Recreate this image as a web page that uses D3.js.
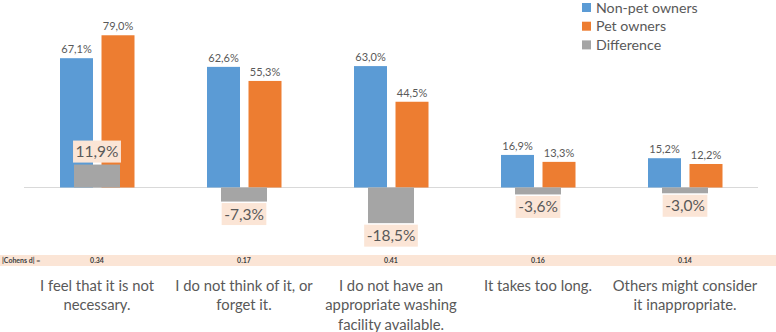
<!DOCTYPE html>
<html><head><meta charset="utf-8">
<script src="https://cdn.jsdelivr.net/npm/d3@7"></script>
<style>body{margin:0;background:#fff;} svg{display:block;font-family:Lato,"Open Sans",sans-serif;}</style>
</head><body>
<svg id="c" width="776" height="332"></svg>
<script>
const categories = [
  ["I feel that it is not", "necessary."],
  ["I do not think of it, or", "forget it."],
  ["I do not have an", "appropriate washing", "facility available."],
  ["It takes too long."],
  ["Others might consider", "it inappropriate."]
];
const seriesNames = ["Non-pet owners", "Pet owners", "Difference"];
const nonPet = [67.1, 62.6, 63.0, 16.9, 15.2];
const pet = [79.0, 55.3, 44.5, 13.3, 12.2];
const diff = [11.9, -7.3, -18.5, -3.6, -3.0];
const cohensD = ["0.34", "0.17", "0.41", "0.16", "0.14"];
const colors = ["#5B9BD5", "#ED7D31", "#A5A5A5"];

const fmt = v => v.toFixed(1).replace(".", ",") + "%";
const svg = d3.select("#c");
const keys = categories.map((c, i) => i);

const x = d3.scaleBand().domain(keys).range([23.5, 758.5]);
const xs = d3.scaleBand().domain([0, 1]).range([-37, 37.5]).paddingInner(0.205);
const y = d3.scaleLinear().domain([-20, 80]).range([226.04, 33.34]);
const cx = i => x(i) + x.bandwidth() / 2;

// axis line
svg.append("line").attr("x1", 24).attr("x2", 758).attr("y1", y(0)).attr("y2", y(0))
  .attr("stroke", "#d9d9d9").attr("stroke-width", 1);

// bars
[nonPet, pet].forEach((vals, s) => {
  const g = svg.append("g");
  g.selectAll("rect").data(vals).join("rect")
    .attr("x", (d, i) => cx(i) + xs(s)).attr("width", xs.bandwidth())
    .attr("y", d => y(d)).attr("height", d => y(0) - y(d))
    .attr("fill", colors[s]);
  g.selectAll("text").data(vals).join("text")
    .attr("x", (d, i) => cx(i) + xs(s) + xs.bandwidth() / 2)
    .attr("y", d => y(d) - 5)
    .attr("text-anchor", "middle").attr("font-size", 11).attr("fill", "#595959")
    .text(fmt);
});

// difference bars
const gw = 46;
svg.append("g").selectAll("rect").data(diff).join("rect")
  .attr("x", (d, i) => cx(i) - gw / 2).attr("width", gw)
  .attr("y", d => y(Math.max(0, d))).attr("height", d => Math.abs(y(d) - y(0)))
  .attr("fill", colors[2]);

// difference labels with boxes
const dl = svg.append("g");
diff.forEach((d, i) => {
  const g = dl.append("g");
  const t = g.append("text").attr("x", cx(i)).attr("text-anchor", "middle")
    .attr("font-size", 15.5).attr("fill", "#595959").text(fmt(d));
  const w = t.node().getComputedTextLength() + 5;
  const h = 22;
  const top = d >= 0 ? y(d) - 2 - h : y(d) + 1.5;
  t.attr("y", top + h / 2 + 5.5);
  g.insert("rect", "text").attr("x", cx(i) - w / 2).attr("y", top).attr("width", w).attr("height", h)
    .attr("fill", "#FBE5D6");
});

// Cohens d band
svg.append("rect").attr("x", 0).attr("y", 255).attr("width", 776).attr("height", 11).attr("fill", "#FBE5D6");
svg.append("text").attr("x", 2).attr("y", 263).attr("font-size", 7).attr("font-weight", "bold")
  .attr("fill", "#404040").text("|Cohens d| =");
svg.append("g").selectAll("text").data(cohensD).join("text")
  .attr("x", (d, i) => cx(i)).attr("y", 263).attr("text-anchor", "middle")
  .attr("font-size", 7).attr("font-weight", "bold").attr("fill", "#404040").text(d => d);

// category labels
const cl = svg.append("g");
categories.forEach((lines, i) => {
  const t = cl.append("text").attr("x", cx(i)).attr("y", 290.5).attr("text-anchor", "middle")
    .attr("font-size", 14.8).attr("fill", "#595959");
  lines.forEach((ln, k) => t.append("tspan").attr("x", cx(i)).attr("dy", k ? 19.5 : 0).text(ln));
});

// legend
const lg = svg.append("g");
seriesNames.forEach((n, k) => {
  const yy = 7.5 + k * 18.7;
  lg.append("rect").attr("x", 582).attr("y", yy - 4.5).attr("width", 9).attr("height", 9).attr("fill", colors[k]);
  lg.append("text").attr("x", 596).attr("y", yy + 5.2).attr("font-size", 14.2).attr("fill", "#595959").text(n);
});
</script>
</body></html>
